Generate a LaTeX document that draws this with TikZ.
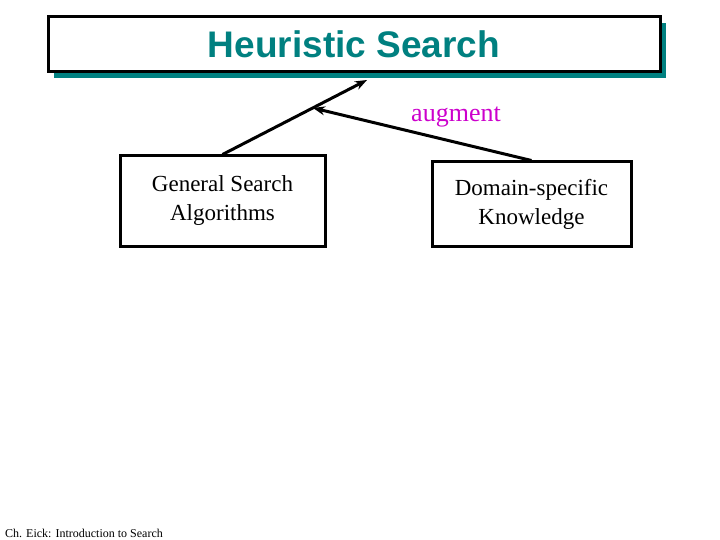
\documentclass[tikz,border=0pt]{standalone}
\usepackage{fontspec}
\usetikzlibrary{arrows.meta}
\setmainfont{Liberation Serif}
\newfontfamily\titlefont{Liberation Sans}
\definecolor{tealc}{RGB}{0,128,128}
\definecolor{magc}{RGB}{204,0,204}
\begin{document}
\begin{tikzpicture}[x=1pt,y=-1pt,
  box/.style={draw,line width=3pt,fill=white,inner sep=0pt},
  conn/.style={line width=3pt,-{Stealth[length=12pt,width=9pt]}}]
\useasboundingbox (0,0) rectangle (720,540);
\fill[tealc] (54,23) rectangle (666,78);
\node[box,minimum width=612pt,minimum height=55pt] (title) at (354,44.5)
  {\titlefont\bfseries\fontsize{37}{42}\selectfont\color{tealc}Heuristic Search};
\node[box,minimum width=205pt,minimum height=90pt,align=center,font=\fontsize{23}{29}\selectfont] (gsa) at (222.5,201)
  {\raisebox{6pt}{\parbox{200pt}{\centering General Search\\Algorithms}}};
\node[box,minimum width=199pt,minimum height=84pt,align=center,font=\fontsize{23}{29}\selectfont] (dsk) at (531.5,204)
  {Domain-specific\\ Knowledge};
\coordinate (tip1) at (367,80);
\coordinate (tip2) at (313,108);
\draw[conn] (gsa.north) -- (tip1);
\draw[conn] (dsk.north) -- (tip2);
\node[text=magc,font=\fontsize{26}{30}\selectfont] (aug) at (456,117) {augment};
\node[font=\fontsize{12}{14}\selectfont] (foot) at (84,533) {Ch. Eick: Introduction to Search};
\end{tikzpicture}
\end{document}
